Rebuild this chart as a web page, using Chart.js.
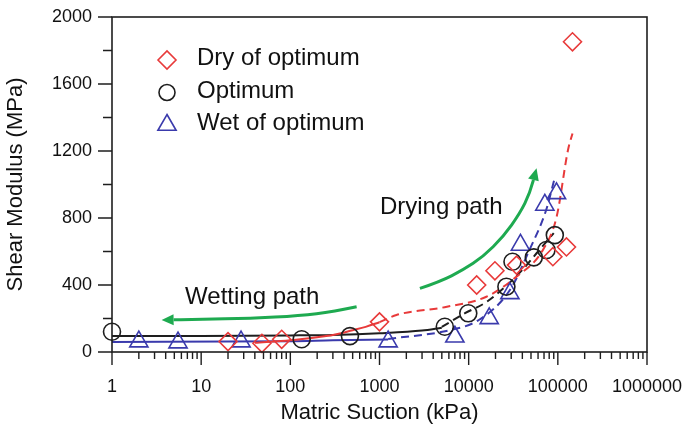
<!DOCTYPE html>
<html>
<head>
<meta charset="utf-8">
<script src="https://cdn.jsdelivr.net/npm/chart.js@4.4.1/dist/chart.umd.min.js"></script>
<style>
  html, body { margin: 0; padding: 0; background: #fff; }
  #wrap { width: 686px; height: 432px; }
</style>
</head>
<body>
<div id="wrap"><canvas id="modulusChart" width="686" height="432"></canvas></div>
<script>
// Shear modulus against matric suction for three compaction states

// Axis ticks
const xTickValues = [1, 10, 100, 1000, 10000, 100000, 1000000];
const yTickValues = [0, 400, 800, 1200, 1600, 2000];

// Measured points (suction in kPa, modulus in MPa)
const drySuction = [20, 48, 80, 1000, 12300, 19700, 34400, 88000, 125000, 146000];
const dryModulus = [62, 52, 76, 180, 400, 485, 519, 569, 627, 1852];

const optSuction = [1, 134, 466, 5400, 9900, 26500, 31000, 53800, 74600, 92500];
const optModulus = [121, 76, 95, 151, 231, 390, 539, 565, 609, 698];

const wetSuction = [2, 5.5, 28, 1250, 7000, 17000, 29000, 38100, 71500, 96600];
const wetModulus = [62, 56, 62, 62, 91, 201, 350, 639, 878, 947];

// Fitted curves
const dryFitSolidSuction = [40, 100, 200, 300, 500, 700, 1000];
const dryFitSolidModulus = [55, 70, 88, 101, 130, 150, 178];
const dryFitDashSuction = [1000, 1550, 5700, 15800, 34400, 68000, 97000, 130000, 146000];
const dryFitDashModulus = [178, 221, 270, 330, 450, 609, 808, 1206, 1305];

const optFitSolidSuction = [1, 10, 100, 300, 1000, 3000, 5000];
const optFitSolidModulus = [95, 96, 99, 102, 112, 128, 145];
const optFitDashSuction = [5000, 9000, 16000, 27000, 40000, 60000, 90000];
const optFitDashModulus = [150, 230, 300, 400, 490, 600, 710];

const wetFitSolidSuction = [1, 100, 300, 1250];
const wetFitSolidModulus = [60, 64, 70, 75];
const wetFitDashSuction = [1250, 6200, 13000, 29000, 48000, 74000, 92000];
const wetFitDashModulus = [78, 131, 191, 370, 609, 848, 1037];

// Annotation arrows, in data units
const dryingArrowSuction = [2840, 4750, 8680, 14500, 24400, 37500, 48500, 57700];
const dryingArrowModulus = [380, 420, 490, 569, 688, 828, 947, 1097];
const wettingArrowSuction = [554, 302, 128, 35.4, 9.7, 3.6];
const wettingArrowModulus = [270, 241, 217, 201, 195, 191];

const RED = "rgb(232, 58, 58)";
const BLUE = "rgb(58, 58, 172)";
const BLACK = "#1e1e1e";
const GREEN = "rgb(30, 170, 80)";

const toPoints = (xs, ys) => xs.map((x, i) => ({ x: x, y: ys[i] }));

function markerSet(label, xs, ys, color, style, radius) {
  return {
    label: label,
    data: toPoints(xs, ys),
    showLine: false,
    pointStyle: style,
    pointRadius: radius,
    pointBorderWidth: 1.6,
    pointBorderColor: color,
    pointBackgroundColor: "rgba(0,0,0,0)",
    clip: false,
  };
}

function fitSet(xs, ys, color, dashed) {
  return {
    label: "",
    data: toPoints(xs, ys),
    showLine: true,
    pointRadius: 0,
    borderColor: color,
    borderWidth: 2,
    borderDash: dashed ? [8, 5] : [],
    cubicInterpolationMode: "monotone",
  };
}

const legendItems = [
  { text: "Dry of optimum", color: RED, style: "rectRot", radius: 9 },
  { text: "Optimum", color: BLACK, style: "circle", radius: 8 },
  { text: "Wet of optimum", color: BLUE, style: "triangle", radius: 10.5 },
];

// frame, tick marks, arrows, notes and legend
const decorPlugin = {
  id: "decor",
  afterDraw(chart) {
    const ctx = chart.ctx;
    const area = chart.chartArea;
    const xs = chart.scales.x;
    const ys = chart.scales.y;

    ctx.save();
    ctx.strokeStyle = BLACK;
    ctx.lineWidth = 1.6;
    ctx.strokeRect(area.left, area.top, area.right - area.left, area.bottom - area.top);

    // x ticks (log decades with minor marks)
    ctx.lineWidth = 1.4;
    ctx.beginPath();
    for (let d = 1; d <= 1000000; d *= 10) {
      const px = xs.getPixelForValue(d);
      ctx.moveTo(px, area.bottom);
      ctx.lineTo(px, area.bottom + 13);
      if (d < 1000000) {
        for (let m = 2; m <= 9; m++) {
          const mx = xs.getPixelForValue(d * m);
          ctx.moveTo(mx, area.bottom);
          ctx.lineTo(mx, area.bottom + 7);
        }
      }
    }
    // y ticks
    for (let v = 0; v <= 2000; v += 200) {
      const py = ys.getPixelForValue(v);
      const len = v % 400 === 0 ? 14 : 9;
      ctx.moveTo(area.left, py);
      ctx.lineTo(area.left - len, py);
    }
    ctx.stroke();

    // green arrows
    const drawArrow = (sx, sy) => {
      const pts = sx.map((s, i) => ({ x: xs.getPixelForValue(s), y: ys.getPixelForValue(sy[i]) }));
      ctx.strokeStyle = GREEN;
      ctx.fillStyle = GREEN;
      ctx.lineWidth = 3;
      ctx.beginPath();
      ctx.moveTo(pts[0].x, pts[0].y);
      for (let i = 1; i < pts.length - 1; i++) {
        const mx = (pts[i].x + pts[i + 1].x) / 2;
        const my = (pts[i].y + pts[i + 1].y) / 2;
        ctx.quadraticCurveTo(pts[i].x, pts[i].y, mx, my);
      }
      const tip = pts[pts.length - 1];
      const prev = pts[pts.length - 2];
      const ang = Math.atan2(tip.y - prev.y, tip.x - prev.x);
      const baseX = tip.x - Math.cos(ang) * 12;
      const baseY = tip.y - Math.sin(ang) * 12;
      ctx.lineTo(baseX, baseY);
      ctx.stroke();
      ctx.beginPath();
      ctx.moveTo(tip.x, tip.y);
      ctx.lineTo(baseX + Math.sin(ang) * 5.5, baseY - Math.cos(ang) * 5.5);
      ctx.lineTo(baseX - Math.sin(ang) * 5.5, baseY + Math.cos(ang) * 5.5);
      ctx.closePath();
      ctx.fill();
    };
    drawArrow(dryingArrowSuction, dryingArrowModulus);
    drawArrow(wettingArrowSuction, wettingArrowModulus);

    // path notes
    ctx.fillStyle = "#111";
    ctx.font = "24px 'Liberation Sans', Arial, sans-serif";
    ctx.textAlign = "left";
    ctx.textBaseline = "alphabetic";
    ctx.fillText("Drying path", xs.getPixelForValue(1010), ys.getPixelForValue(824));
    ctx.fillText("Wetting path", xs.getPixelForValue(6.6), ys.getPixelForValue(285));

    // legend
    legendItems.forEach((item, i) => {
      const cx = area.left + 55;
      const cy = area.top + 43 + i * 32.5;
      ctx.strokeStyle = item.color;
      ctx.fillStyle = "rgba(0,0,0,0)";
      ctx.lineWidth = 1.6;
      Chart.helpers.drawPoint(ctx, { pointStyle: item.style, radius: item.radius, borderWidth: 1.6 }, cx, cy);
      ctx.fillStyle = "#111";
      ctx.fillText(item.text, area.left + 85, cy + 5);
    });
    ctx.restore();
  },
};

Chart.defaults.font.family = "'Liberation Sans', Arial, sans-serif";
Chart.defaults.color = "#111";

const ctx = document.getElementById("modulusChart").getContext("2d");
new Chart(ctx, {
  type: "scatter",
  data: {
    datasets: [
      markerSet("Dry of optimum", drySuction, dryModulus, RED, "rectRot", 9),
      markerSet("Optimum", optSuction, optModulus, BLACK, "circle", 8.5),
      markerSet("Wet of optimum", wetSuction, wetModulus, BLUE, "triangle", 10.5),
      fitSet(dryFitSolidSuction, dryFitSolidModulus, RED, false),
      fitSet(dryFitDashSuction, dryFitDashModulus, RED, true),
      fitSet(optFitSolidSuction, optFitSolidModulus, BLACK, false),
      fitSet(optFitDashSuction, optFitDashModulus, BLACK, true),
      fitSet(wetFitSolidSuction, wetFitSolidModulus, BLUE, false),
      fitSet(wetFitDashSuction, wetFitDashModulus, BLUE, true),
    ],
  },
  options: {
    responsive: false,
    animation: false,
    devicePixelRatio: 1,
    layout: { padding: { left: 0, right: 39, top: 17, bottom: 0 } },
    plugins: {
      legend: { display: false },
      tooltip: { enabled: false },
    },
    scales: {
      x: {
        type: "logarithmic",
        min: 1,
        max: 1000000,
        afterBuildTicks: (scale) => {
          scale.ticks = xTickValues.map((v) => ({ value: v, major: true }));
        },
        afterFit: (scale) => {
          scale.height = 80;
          scale.paddingLeft = 0;
          scale.paddingRight = 0;
        },
        grid: { display: false, drawTicks: false },
        border: { display: false },
        ticks: {
          padding: 24,
          autoSkip: false,
          maxRotation: 0,
          font: { size: 18 },
          callback: (v) => String(v),
        },
        title: {
          display: true,
          text: "Matric Suction (kPa)",
          font: { size: 22 },
          padding: { top: 0, bottom: 6 },
        },
      },
      y: {
        min: 0,
        max: 2000,
        afterBuildTicks: (scale) => {
          scale.ticks = yTickValues.map((v) => ({ value: v }));
        },
        afterFit: (scale) => {
          scale.width = 112;
          scale.paddingTop = 0;
          scale.paddingBottom = 0;
        },
        grid: { display: false, drawTicks: false },
        border: { display: false },
        ticks: {
          padding: 20,
          font: { size: 18 },
          callback: (v) => String(v),
        },
        title: {
          display: true,
          text: "Shear Modulus (MPa)",
          font: { size: 22 },
          padding: { top: 3, bottom: 0 },
        },
      },
    },
  },
  plugins: [decorPlugin],
});
</script>
</body>
</html>
